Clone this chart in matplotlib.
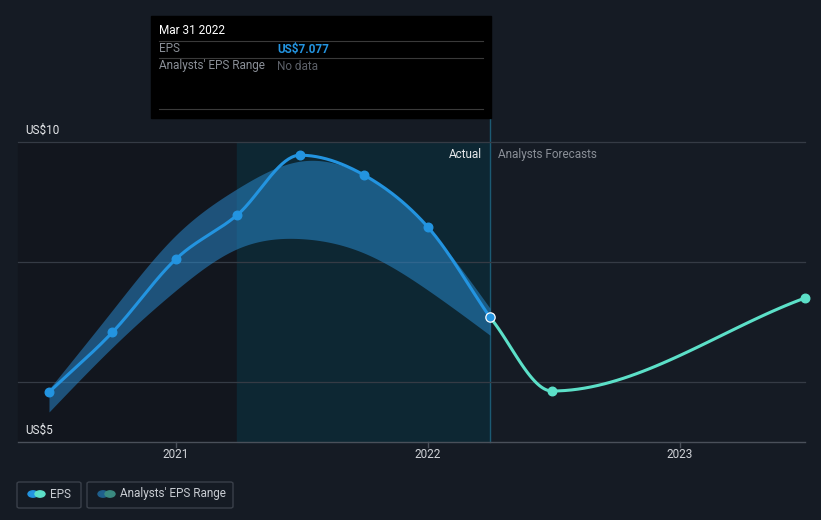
import matplotlib.pyplot as plt
from matplotlib.patches import Rectangle, FancyBboxPatch
import numpy as np

plt.rcParams['font.family'] = ['Roboto', 'DejaVu Sans']

# data (decimal years, US$)
actual_x = [2020.496, 2020.748, 2021.0, 2021.242, 2021.492, 2021.746, 2022.0, 2022.246]
actual_eps = [5.83, 6.83, 8.05, 8.78, 9.78, 9.45, 8.58, 7.077]
range_low = [5.5, 6.58, 7.53, 8.22, 8.39, 8.15, 7.53, 6.78]
range_high = [5.88, 7.2, 8.45, 9.22, 9.68, 9.45, 8.57, 7.23]
forecast_x = [2022.246, 2022.492, 2023.496]
forecast_eps = [7.077, 5.85, 7.4]
year_ticks = [2021, 2022, 2023]

W, H = 821, 520
BG = '#151b24'


def hermite(x, y, m, n=40):
    h = np.diff(x)
    xs, ys = [], []
    for i in range(len(h)):
        t = np.linspace(0, 1, n)
        h00 = 2 * t**3 - 3 * t**2 + 1
        h10 = t**3 - 2 * t**2 + t
        h01 = -2 * t**3 + 3 * t**2
        h11 = t**3 - t**2
        xs.append(x[i] + t * h[i])
        ys.append(h00 * y[i] + h10 * h[i] * m[i] + h01 * y[i + 1] + h11 * h[i] * m[i + 1])
    return np.concatenate(xs), np.concatenate(ys)


def monotone(x, y):
    # monotone cubic (like d3 curveMonotoneX)
    x = np.asarray(x, float)
    y = np.asarray(y, float)
    h = np.diff(x)
    d = np.diff(y) / h
    m = np.zeros_like(y)
    m[0] = d[0]
    m[-1] = d[-1]
    for i in range(1, len(y) - 1):
        if d[i - 1] * d[i] <= 0:
            m[i] = 0
        else:
            m[i] = (h[i - 1] * d[i - 1] + h[i] * d[i]) / (h[i - 1] + h[i])
            lim = 3 * min(abs(d[i - 1]), abs(d[i]))
            if abs(m[i]) > lim:
                m[i] = np.sign(m[i]) * lim
    return hermite(x, y, m)


def natural(x, y):
    # natural cubic spline, for the smooth range band
    x = np.asarray(x, float)
    y = np.asarray(y, float)
    n = len(x)
    h = np.diff(x)
    A = np.zeros((n, n))
    b = np.zeros(n)
    A[0, 0] = A[-1, -1] = 1
    for i in range(1, n - 1):
        A[i, i - 1] = h[i - 1]
        A[i, i] = 2 * (h[i - 1] + h[i])
        A[i, i + 1] = h[i]
        b[i] = 3 * ((y[i + 1] - y[i]) / h[i] - (y[i] - y[i - 1]) / h[i - 1])
    c = np.linalg.solve(A, b)
    m = np.zeros(n)
    for i in range(n - 1):
        m[i] = (y[i + 1] - y[i]) / h[i] - h[i] * (2 * c[i] + c[i + 1]) / 3
    m[-1] = (y[-1] - y[-2]) / h[-1] + h[-1] * (c[-2] + 2 * c[-1]) / 3
    return hermite(x, y, m)


def px(x, y):
    return x / W, 1 - y / H


fig = plt.figure(figsize=(W / 100, H / 100), dpi=100)
fig.patch.set_facecolor(BG)
ax = fig.add_axes([0, 0, 1, 1])
ax.set_facecolor(BG)
x0 = 2021 - 176 / 252
x1 = 2021 + (W - 176) / 252
ax.set_xlim(x0, x1)
ax.set_ylim(10 - (H - 142) / 60, 10 + 142 / 60)
ax.axis('off')

xl = 2021 + (18 - 176) / 252
xr = 2021 + (805 - 176) / 252
split = actual_x[-1]
hl_start = actual_x[3]

# background regions
ax.add_patch(Rectangle((xl, 5), hl_start - xl, 5, color='#12161e', zorder=0))
ax.add_patch(Rectangle((hl_start, 5), split - hl_start, 5, color='#0d2733', zorder=0))
ax.plot([split, split], [5, 10 + 24 / 60], color='#1c5a73', lw=1, zorder=1)

# grid
for g in [10, 8, 6]:
    ax.plot([xl, xr], [g, g], color='#353b45', lw=0.9, zorder=1)
ax.plot([xl, xr], [5, 5], color='#4a505a', lw=1, zorder=1)
for t in year_ticks:
    ax.plot([t, t], [5, 5 - 5 / 60], color='#4a505a', lw=1)
    ax.text(t, 5 - 13 / 60, str(t), color='#d0d3d8', fontsize=8.5, ha='center', va='center')

ax.text(2021 + (25 - 176) / 252, 10 + 12 / 60, 'US$10', color='#e6e8eb', fontsize=8.5, va='center')
ax.text(2021 + (25 - 176) / 252, 5 + 12 / 60, 'US$5', color='#e6e8eb', fontsize=8.5, va='center')
ax.text(split - 8 / 252, 10 - 12 / 60, 'Actual', color='#e6e8eb', fontsize=8.5, ha='right', va='center')
ax.text(split + 8 / 252, 10 - 12 / 60, 'Analysts Forecasts', color='#8a8f97', fontsize=8.5, ha='left', va='center')

# range band
bx, bl = natural(actual_x, range_low)
_, bh = natural(actual_x, range_high)
ax.fill_between(bx, bl, bh, color='#2a8fd6', alpha=0.5, lw=0, zorder=2)

# lines
ex, ey = monotone(actual_x, actual_eps)
ax.plot(ex, ey, color='#2394e0', lw=2.2, zorder=3, solid_capstyle='round')
ax.scatter(actual_x[:-1], actual_eps[:-1], s=38, color='#2394e0', zorder=4)
fx, fy = monotone(forecast_x, forecast_eps)
ax.plot(fx, fy, color='#5ce0c8', lw=2.2, zorder=3, solid_capstyle='round')
ax.scatter(forecast_x[1:], forecast_eps[1:], s=38, color='#5ce0c8', zorder=4, clip_on=False)
ax.scatter([split], [actual_eps[-1]], s=45, color='#2394e0', edgecolor='white', lw=0.9, zorder=5)

# tooltip
fig.patches.append(Rectangle(px(151, 118), 340 / W, 102 / H, transform=fig.transFigure,
                             color='#000000', zorder=10))
for yy in [41, 58, 109]:
    fig.lines.append(plt.Line2D([159 / W, 483 / W], [1 - yy / H] * 2, transform=fig.transFigure,
                                color='#3a3a3a', lw=0.8, zorder=11))
fig.text(*px(159, 31), 'Mar 31 2022', color='white', fontsize=8.5, va='center', zorder=12)
fig.text(*px(159, 49), 'EPS', color='#8a8f97', fontsize=8.5, va='center', zorder=12)
fig.text(*px(277, 49), 'US$7.077', color='#2394e0', fontsize=8.5, fontweight='bold', va='center', zorder=12)
fig.text(*px(159, 66), "Analysts' EPS Range", color='#8a8f97', fontsize=8.5, va='center', zorder=12)
fig.text(*px(277, 66), 'No data', color='#5c6068', fontsize=8.5, va='center', zorder=12)

# legend
for (lx, lw_, label, c1, c2) in [(17, 64, 'EPS', '#2394e0', '#5ce0c8'),
                                  (87, 146, "Analysts' EPS Range", '#1f5f8c', '#3a8a80')]:
    fig.patches.append(FancyBboxPatch(px(lx, 508), lw_ / W, 26 / H, boxstyle='round,pad=0,rounding_size=0.003',
                                      transform=fig.transFigure, facecolor='none', edgecolor='#3a404a', lw=1))
    fig.patches.append(plt.Circle(px(lx + 16, 494), 5 / W, transform=fig.transFigure, color=c1))
    fig.patches.append(plt.Circle(px(lx + 23, 494), 5 / W, transform=fig.transFigure, color=c2))
    fig.text(*px(lx + 33, 494), label, color='#c8ccd2', fontsize=8.5, va='center')

fig.savefig('out.png', dpi=100, facecolor=BG)
